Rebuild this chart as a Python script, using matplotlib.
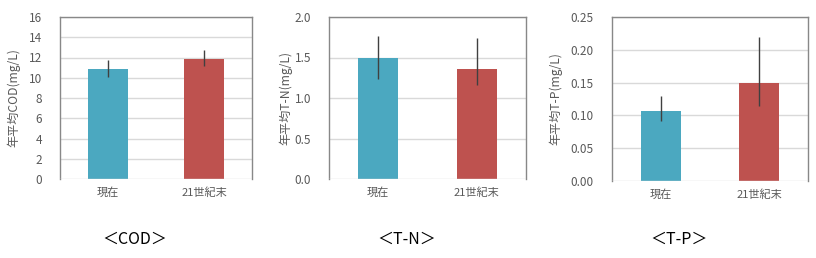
import matplotlib
matplotlib.use("Agg")
import matplotlib.pyplot as plt

plt.rcParams['font.family'] = ['Noto Sans CJK JP', 'DejaVu Sans']

categories = ["現在", "21世紀末"]
cod_values = [10.9, 11.9]
cod_low = [10.1, 11.2]
cod_high = [11.8, 12.7]
tn_values = [1.50, 1.36]
tn_low = [1.24, 1.16]
tn_high = [1.77, 1.74]
tp_values = [0.106, 0.150]
tp_low = [0.091, 0.115]
tp_high = [0.129, 0.219]
ylabels = ["年平均COD(mg/L)", "年平均T-N(mg/L)", "年平均T-P(mg/L)"]
titles = ["＜COD＞", "＜T-N＞", "＜T-P＞"]
yticks = [[0, 2, 4, 6, 8, 10, 12, 14, 16],
          [0.0, 0.5, 1.0, 1.5, 2.0],
          [0.00, 0.05, 0.10, 0.15, 0.20, 0.25]]
ytick_fmt = ["{:.0f}", "{:.1f}", "{:.2f}"]
colors = ["#4BA8C0", "#BE524F"]

W, H = 816, 258
fig = plt.figure(figsize=(W / 100, H / 100), dpi=100)

boxes = [(60, 252, 17, 179), (329, 526, 17, 179), (612, 808, 17, 181)]
ylabel_x = [20, 292, 562]
title_x = [134.5, 407, 679]

data = [(cod_values, cod_low, cod_high), (tn_values, tn_low, tn_high), (tp_values, tp_low, tp_high)]
txt = "#595959"

for i, (vals, lo, hi) in enumerate(data):
    l, r, t, b = boxes[i]
    ax = fig.add_axes([l / W, (H - b) / H, (r - l) / W, (b - t) / H])
    x = list(range(len(categories)))
    ax.bar(x, vals, width=0.41, color=colors, zorder=2)
    yerr = [[v - a for v, a in zip(vals, lo)], [c - v for v, c in zip(vals, hi)]]
    ax.errorbar(x, vals, yerr=yerr, fmt='none', ecolor="#404040", elinewidth=1.0, capsize=0, zorder=3)
    ax.set_xlim(-0.5, 1.5)
    ax.set_ylim(yticks[i][0], yticks[i][-1])
    ax.set_yticks(yticks[i])
    ax.set_yticklabels([ytick_fmt[i].format(v) for v in yticks[i]], color=txt, fontsize=8.5)
    ax.set_xticks(x)
    ax.set_xticklabels(categories, color=txt, fontsize=8)
    ax.tick_params(length=0)
    ax.tick_params(axis='x', pad=6)
    ax.tick_params(axis='y', pad=13)
    for v in yticks[i]:
        ax.axhline(v, color="#D9D9D9", lw=1.0, zorder=1 if v != 0 else 4)
    for s in ["left", "top", "right"]:
        ax.spines[s].set_color("#888888")
        ax.spines[s].set_linewidth(1.0)
    ax.spines["bottom"].set_visible(False)
    ax.set_ylabel(ylabels[i], color=txt, fontsize=8.7)
    ax.yaxis.set_label_coords((ylabel_x[i] - l) / (r - l), 0.5)
    fig.text(title_x[i] / W, 1 - 239.5 / H, titles[i], ha='center', va='center',
             fontsize=11.5, color="#000000")

fig.savefig("out.png", dpi=100)
